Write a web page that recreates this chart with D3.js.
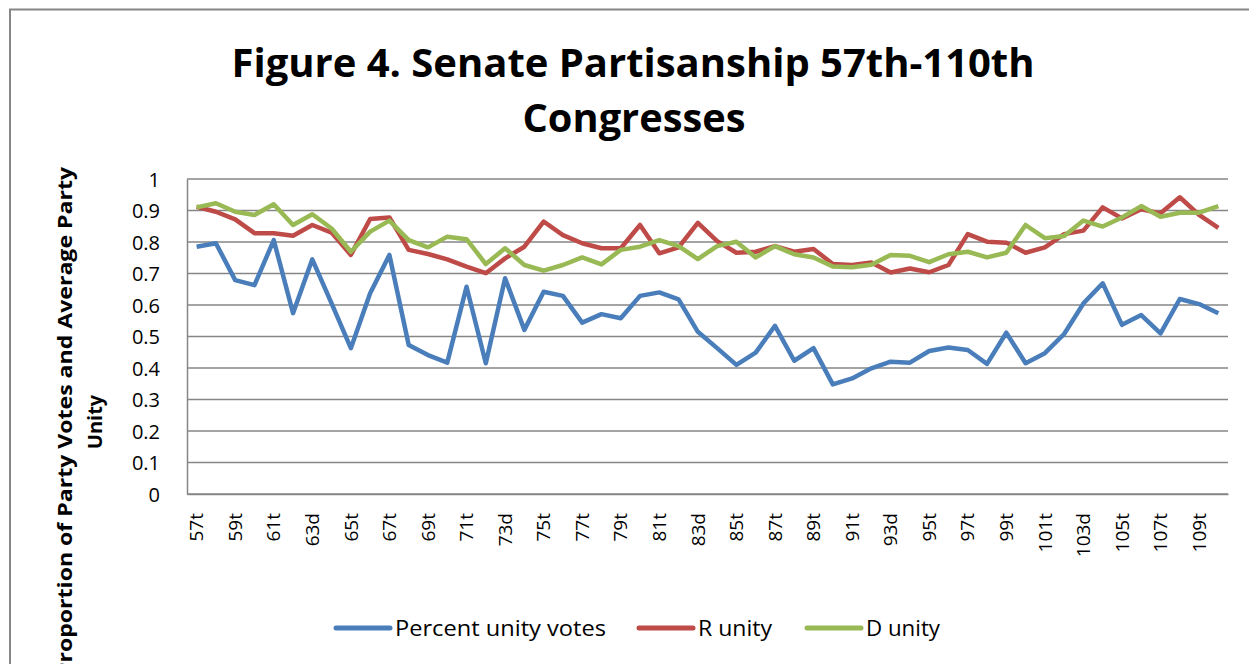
<!DOCTYPE html>
<html lang="en">
<head>
    <meta charset="UTF-8">
    <title>Senate Partisanship</title>
    <script src="https://d3js.org/d3.v7.min.js"></script>
    <style>
        body { margin: 0; background: #fff; }
        text { font-family: "Open Sans", "Liberation Sans", sans-serif; fill: #000; }
    </style>
</head>
<body>
    <div id="chart"></div>
    <script>
        // Congresses 57th - 110th
        const congresses = ["57t","58t","59t","60t","61t","62d","63d","64t","65t","66t","67t","68t",
            "69t","70t","71t","72d","73d","74t","75t","76t","77t","78t","79t","80t","81t","82d",
            "83d","84t","85t","86t","87t","88t","89t","90t","91t","92d","93d","94t","95t","96t",
            "97t","98t","99t","100t","101t","102d","103d","104t","105t","106t","107t","108t","109t","110t"];

        const percentUnity = [0.785,0.796,0.679,0.663,0.806,0.574,0.745,0.605,0.463,0.637,0.759,0.473,
            0.441,0.417,0.658,0.415,0.685,0.521,0.642,0.629,0.544,0.571,0.558,0.629,0.640,0.618,
            0.515,0.463,0.410,0.449,0.534,0.423,0.463,0.348,0.367,0.399,0.420,0.417,0.454,0.465,
            0.457,0.413,0.512,0.415,0.447,0.508,0.605,0.669,0.537,0.568,0.510,0.619,0.603,0.574];

        const rUnity = [0.912,0.896,0.872,0.828,0.828,0.820,0.854,0.830,0.759,0.873,0.878,0.775,
            0.762,0.745,0.722,0.701,0.748,0.785,0.865,0.822,0.796,0.780,0.780,0.854,0.764,0.783,
            0.861,0.803,0.766,0.769,0.787,0.769,0.778,0.730,0.727,0.735,0.703,0.716,0.704,0.727,
            0.825,0.801,0.798,0.766,0.783,0.825,0.836,0.910,0.875,0.904,0.891,0.942,0.886,0.845];

        const dUnity = [0.910,0.923,0.896,0.886,0.920,0.854,0.888,0.843,0.769,0.833,0.868,0.806,
            0.783,0.817,0.809,0.730,0.780,0.727,0.709,0.727,0.751,0.729,0.775,0.785,0.806,0.787,
            0.746,0.787,0.801,0.751,0.787,0.761,0.751,0.722,0.720,0.728,0.759,0.756,0.736,0.761,
            0.769,0.751,0.766,0.854,0.812,0.819,0.868,0.849,0.878,0.914,0.880,0.893,0.893,0.914];

        const yTicks = [0, 0.1, 0.2, 0.3, 0.4, 0.5, 0.6, 0.7, 0.8, 0.9, 1];

        const series = [
            { name: "Percent unity votes", values: percentUnity, color: "#4a7ebb" },
            { name: "R unity", values: rUnity, color: "#be4b48" },
            { name: "D unity", values: dUnity, color: "#98b954" }
        ];

        const width = 1249, height = 664;
        const plot = { left: 187, right: 1228, top: 179, bottom: 494 };

        const svg = d3.select("#chart").append("svg")
            .attr("width", width)
            .attr("height", height);

        // chart area frame (cut off at right and bottom)
        svg.append("path")
            .attr("d", `M10,${height + 5}V9.5H${width + 5}`)
            .attr("fill", "none")
            .attr("stroke", "#868686")
            .attr("stroke-width", 2);

        const x = d3.scaleBand()
            .domain(congresses)
            .range([plot.left, plot.right]);

        const y = d3.scaleLinear()
            .domain([0, 1])
            .range([plot.bottom, plot.top]);

        // gridlines
        svg.append("g")
            .selectAll("line")
            .data(yTicks)
            .join("line")
            .attr("x1", plot.left)
            .attr("x2", plot.right)
            .attr("y1", d => y(d))
            .attr("y2", d => y(d))
            .attr("stroke", "#868686")
            .attr("stroke-width", 1.5);

        // y axis
        const yAxis = svg.append("g")
            .attr("transform", `translate(${plot.left},0)`)
            .call(d3.axisLeft(y).tickValues(yTicks).tickFormat(d3.format("")).tickSize(0).tickPadding(27));
        yAxis.select(".domain").attr("stroke", "#868686").attr("stroke-width", 1.5);
        yAxis.selectAll("text").style("font-size", "20px").attr("dy", "0.35em");

        // x axis, every other label shown
        const xAxis = svg.append("g")
            .attr("transform", `translate(0,${plot.bottom})`)
            .call(d3.axisBottom(x).tickValues(congresses.filter((d, i) => i % 2 === 0)).tickSize(0));
        xAxis.select(".domain").attr("stroke", "#868686").attr("stroke-width", 1.5);
        xAxis.selectAll("text")
            .style("font-size", "19px")
            .attr("transform", "rotate(-90)")
            .attr("text-anchor", "end")
            .attr("x", -19)
            .attr("y", 0)
            .attr("dy", "0.35em");

        // lines
        const line = d3.line()
            .x((d, i) => x(congresses[i]) + x.bandwidth() / 2)
            .y(d => y(d));

        svg.append("g")
            .selectAll("path")
            .data(series)
            .join("path")
            .attr("d", d => line(d.values))
            .attr("fill", "none")
            .attr("stroke", d => d.color)
            .attr("stroke-width", 4.5)
            .attr("stroke-linejoin", "round");

        // title
        svg.append("text")
            .attr("x", 633).attr("y", 77)
            .attr("text-anchor", "middle")
            .attr("textLength", 803).attr("lengthAdjust", "spacingAndGlyphs")
            .style("font-size", "40px").style("font-weight", "bold")
            .text("Figure 4. Senate Partisanship 57th-110th");
        svg.append("text")
            .attr("x", 634).attr("y", 132)
            .attr("text-anchor", "middle")
            .attr("textLength", 223).attr("lengthAdjust", "spacingAndGlyphs")
            .style("font-size", "40px").style("font-weight", "bold")
            .text("Congresses");

        // y axis title
        const yTitle = svg.append("text")
            .attr("transform", "translate(0,422) rotate(-90)")
            .attr("text-anchor", "middle")
            .style("font-size", "20px").style("font-weight", "bold");
        yTitle.append("tspan").attr("x", 0).attr("y", 72)
            .attr("textLength", 510).attr("lengthAdjust", "spacingAndGlyphs")
            .text("Proportion of Party Votes and Average Party");
        yTitle.append("tspan").attr("x", 0).attr("y", 102).text("Unity");

        // legend
        const legendX = [336, 639, 807];
        const legendW = [211, 74, 74];
        const legend = svg.append("g")
            .selectAll("g")
            .data(series)
            .join("g")
            .attr("transform", (d, i) => `translate(${legendX[i]},628)`);
        legend.append("line")
            .attr("x1", 0).attr("x2", 54)
            .attr("stroke", d => d.color)
            .attr("stroke-width", 5)
            .attr("stroke-linecap", "round");
        legend.append("text")
            .attr("x", 59)
            .attr("dy", "0.35em")
            .attr("textLength", (d, i) => legendW[i]).attr("lengthAdjust", "spacingAndGlyphs")
            .style("font-size", "22px")
            .text(d => d.name);
    </script>
</body>
</html>
